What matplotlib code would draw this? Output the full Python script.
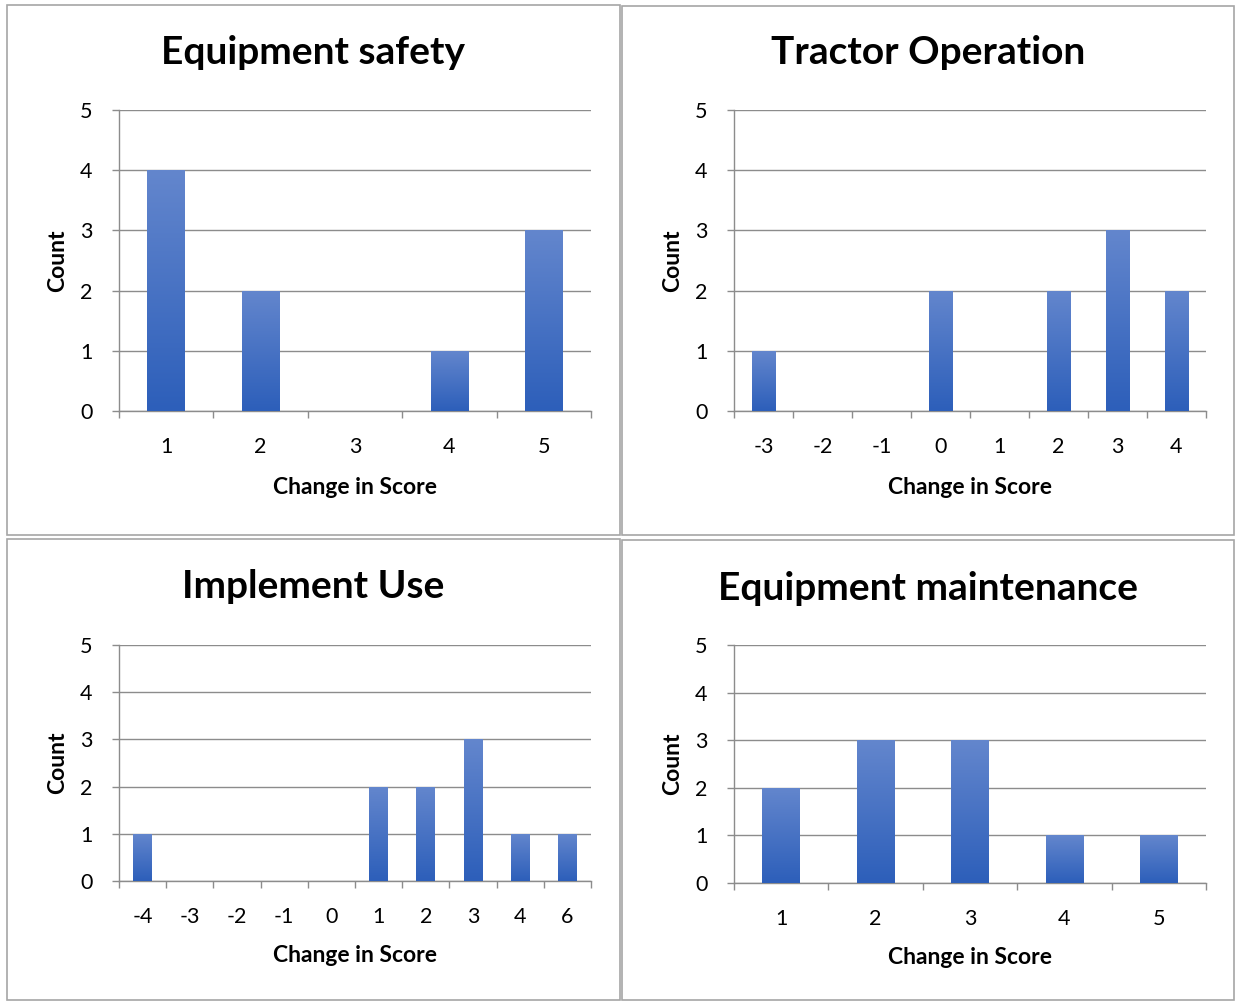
import numpy as np
import matplotlib
matplotlib.use("Agg")
import matplotlib.pyplot as plt
from matplotlib.patches import Rectangle
from matplotlib.colors import LinearSegmentedColormap

plt.rcParams['font.family'] = ['Lato', 'DejaVu Sans']

# data
titles = ["Equipment safety", "Tractor Operation", "Implement Use", "Equipment maintenance"]
cats_safety = ['1', '2', '3', '4', '5']
counts_safety = [4, 2, 0, 1, 3]
cats_tractor = ['-3', '-2', '-1', '0', '1', '2', '3', '4']
counts_tractor = [1, 0, 0, 2, 0, 2, 3, 2]
cats_implement = ['-4', '-3', '-2', '-1', '0', '1', '2', '3', '4', '6']
counts_implement = [1, 0, 0, 0, 0, 2, 2, 3, 1, 1]
cats_maint = ['1', '2', '3', '4', '5']
counts_maint = [2, 3, 3, 1, 1]
yticks = [0, 1, 2, 3, 4, 5]

W, H = 1236, 1002
fig = plt.figure(figsize=(W / 100, H / 100), dpi=100)
fig.patch.set_facecolor('white')

grad = LinearSegmentedColormap.from_list('bar', ['#2d5fba', '#6386cd'])
gray = '#8c8c8c'


def px(x0, y0, x1, y1):
    # pixel box (top-left origin) -> figure fraction
    return [x0 / W, 1 - y1 / H, (x1 - x0) / W, (y1 - y0) / H]


# panel frames
for (x0, y0, x1, y1) in [(7, 5, 620, 535), (622, 6, 1234, 535),
                         (7, 539, 620, 1000), (622, 540, 1234, 1000)]:
    fig.patches.append(Rectangle((x0 / W, 1 - y1 / H), (x1 - x0) / W, (y1 - y0) / H,
                                 transform=fig.transFigure, fill=False,
                                 edgecolor='#a6a6a6', lw=1.2))

panels = [
    (cats_safety, counts_safety, (119, 110, 591, 411), (313, 52), 487),
    (cats_tractor, counts_tractor, (734, 110, 1206, 411), (928, 52), 487),
    (cats_implement, counts_implement, (119, 645, 591, 881), (313, 587), 956),
    (cats_maint, counts_maint, (734, 645, 1206, 883), (928, 588), 958),
]

for (cats, counts, box, tpos, xl_y), title in zip(panels, titles):
    ax = fig.add_axes(px(*box))
    n = len(cats)
    x = np.arange(n)
    bars = ax.bar(x, counts, width=0.4, color='none', edgecolor='none', zorder=3)
    for b in bars:
        if b.get_height() <= 0:
            continue
        bx, by = b.get_x(), b.get_y()
        bw, bh = b.get_width(), b.get_height()
        im = ax.imshow(np.linspace(0, 1, 100).reshape(-1, 1), cmap=grad, aspect='auto',
                       extent=[bx, bx + bw, by, by + bh], origin='lower', zorder=3)
        im.set_clip_path(b)
    ax.set_xlim(-0.5, n - 0.5)
    ax.set_ylim(0, 5)
    ax.set_yticks(yticks)
    ax.set_xticks(x)
    ax.set_xticklabels(cats)
    ax.set_xticks(np.arange(n + 1) - 0.5, minor=True)
    ax.tick_params(axis='x', which='major', length=0, pad=19, labelsize=15.5)
    ax.tick_params(axis='x', which='minor', length=5, color=gray, width=1)
    ax.tick_params(axis='y', length=5, color=gray, width=1, pad=14, labelsize=15.5)
    ax.grid(axis='y', color=gray, lw=1, zorder=0)
    ax.set_axisbelow(True)
    for s in ['top', 'right']:
        ax.spines[s].set_visible(False)
    for s in ['left', 'bottom']:
        ax.spines[s].set_color(gray)
        ax.spines[s].set_linewidth(1)
    # axis titles placed as figure text
    fig.text((box[0] - 61) / W, 1 - (box[1] + box[3]) / 2 / H, 'Count', fontsize=16.5,
             fontweight='bold', rotation=90, ha='center', va='center')
    fig.text((box[0] + box[2]) / 2 / W, 1 - xl_y / H, 'Change in Score', fontsize=16.5,
             fontweight='bold', ha='center', va='center')
    fig.text(tpos[0] / W, 1 - tpos[1] / H, title, fontsize=28, fontweight='bold',
             ha='center', va='center')

fig.savefig('out.png', dpi=100)
